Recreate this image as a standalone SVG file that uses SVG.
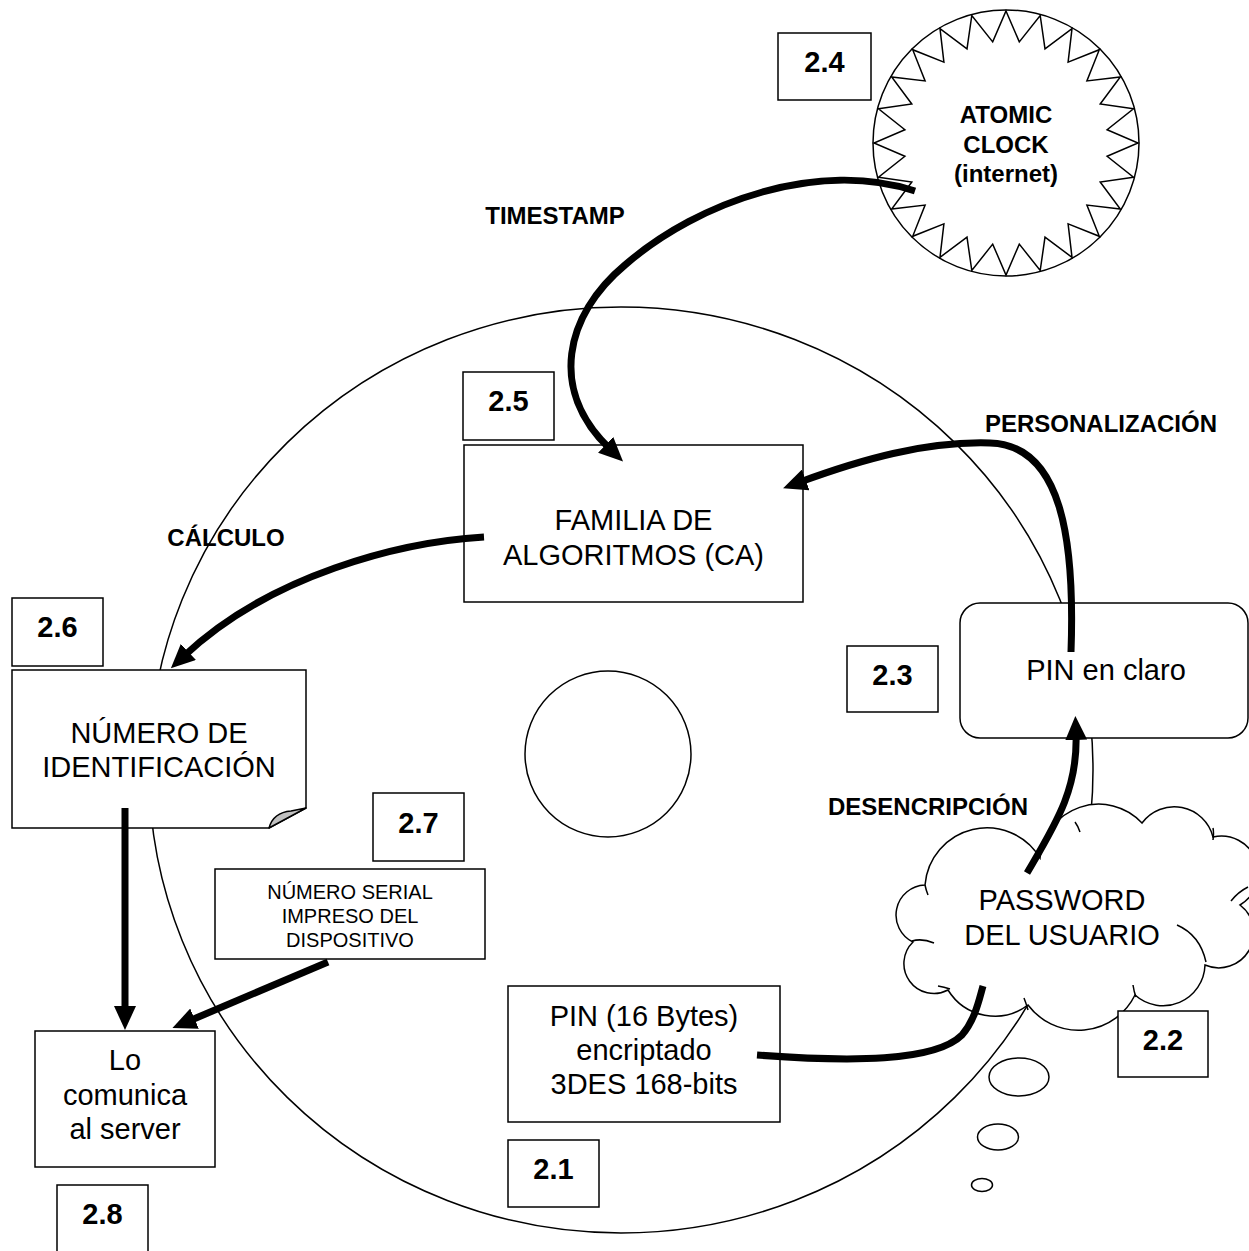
<svg xmlns="http://www.w3.org/2000/svg" width="1249" height="1251" viewBox="0 0 1249 1251">
<defs>
<style>
.box{fill:#fff;stroke:#000;stroke-width:1.5}
.thin{fill:none;stroke:#000;stroke-width:1.5}
.conn{fill:none;stroke:#000;stroke-width:7}
.num{font-family:"Liberation Sans",Arial,sans-serif;font-weight:bold;font-size:29px;text-anchor:middle}
.big{font-family:"Liberation Sans",Arial,sans-serif;font-size:29px;text-anchor:middle}
.lbl{font-family:"Liberation Sans",Arial,sans-serif;font-weight:bold;font-size:24px;text-anchor:middle}
.small{font-family:"Liberation Sans",Arial,sans-serif;font-size:20px;text-anchor:middle}
</style>
<marker id="ah" markerUnits="userSpaceOnUse" markerWidth="24" markerHeight="22" viewBox="0 0 24 22" refX="6" refY="11" orient="auto"><path d="M0,0 L24,11 L0,22 z" fill="#000"/></marker>
</defs>
<rect width="1249" height="1251" fill="#fff"/>
<g id="disc">
<ellipse cx="621" cy="770" rx="472" ry="463" class="thin"/>
<circle cx="608" cy="754" r="83" class="thin"/>
</g>
<g id="n24"><rect x="778" y="33" width="93" height="67" class="box"/><text x="824.5" y="72" class="num">2.4</text></g>
<g id="clock">
<circle cx="1006" cy="143" r="133" class="box"/>
<polygon class="box" points="1006,11 1019.3,41.9 1040.2,15.5 1045,48.8 1072,28.7 1068.1,62.1 1099.3,49.7 1086.9,80.9 1120.3,77 1100.2,104 1133.5,108.8 1107.1,129.7 1138,143 1107.1,156.3 1133.5,177.2 1100.2,182 1120.3,209 1086.9,205.1 1099.3,236.3 1068.1,223.9 1072,257.3 1045,237.2 1040.2,270.5 1019.3,244.1 1006,275 992.7,244.1 971.8,270.5 967,237.2 940,257.3 943.9,223.9 912.7,236.3 925.1,205.1 891.7,209 911.8,182 878.5,177.2 904.9,156.3 874,143 904.9,129.7 878.5,108.8 911.8,104 891.7,77 925.1,80.9 912.7,49.7 943.9,62.1 940,28.7 967,48.8 971.8,15.5 992.7,41.9"/>
<text x="1006" y="123" class="lbl">ATOMIC</text>
<text x="1006" y="153" class="lbl">CLOCK</text>
<text x="1006" y="182" class="lbl">(internet)</text>
</g>
<g id="n25"><rect x="463" y="372" width="91" height="68" class="box"/><text x="508.5" y="411" class="num">2.5</text></g>
<g id="familia"><rect x="464" y="445" width="339" height="157" class="box"/><text x="633.5" y="530" class="big">FAMILIA DE</text><text x="633.5" y="565" class="big">ALGORITMOS (CA)</text></g>
<g id="n26"><rect x="12" y="598" width="91" height="68" class="box"/><text x="57.5" y="637" class="num">2.6</text></g>
<g id="numid">
<path d="M12,670 H306 V808 L269,828 H12 Z" class="box"/>
<path d="M269,828 C272,817 279,812 291,811 L306,808 Z" fill="#c0c0c0" stroke="#000" stroke-width="1.5" stroke-linejoin="round"/>
<text x="159" y="743" class="big">NÚMERO DE</text>
<text x="159" y="777" class="big">IDENTIFICACIÓN</text>
</g>
<g id="n27"><rect x="373" y="793" width="91" height="68" class="box"/><text x="418.5" y="833" class="num">2.7</text></g>
<g id="serial"><rect x="215" y="869" width="270" height="90" class="box"/><text x="350" y="899" class="small">NÚMERO SERIAL</text><text x="350" y="923" class="small">IMPRESO DEL</text><text x="350" y="947" class="small">DISPOSITIVO</text></g>
<g id="comunica"><rect x="35" y="1031" width="180" height="136" class="box"/><text x="125" y="1070" class="big">Lo</text><text x="125" y="1105" class="big">comunica</text><text x="125" y="1139" class="big">al server</text></g>
<g id="n28"><rect x="57" y="1185" width="91" height="70" class="box"/><text x="102.5" y="1224" class="num">2.8</text></g>
<g id="pin16"><rect x="508" y="986" width="272" height="136" class="box"/><text x="644" y="1026" class="big">PIN (16 Bytes)</text><text x="644" y="1060" class="big">encriptado</text><text x="644" y="1094" class="big">3DES 168-bits</text></g>
<g id="n21"><rect x="508" y="1140" width="91" height="67" class="box"/><text x="553.5" y="1179" class="num">2.1</text></g>
<g id="n23"><rect x="847" y="646" width="91" height="66" class="box"/><text x="892.5" y="685" class="num">2.3</text></g>
<g id="pinclaro"><rect x="960" y="603" width="288" height="135" rx="20" ry="20" class="box"/><text x="1106" y="680" class="big">PIN en claro</text></g>
<g id="password">
<path class="box" d="M925,885 A62,62 0 0 1 1040,858 A59,59 0 0 1 1142,823 A40,40 0 0 1 1213,837 A37,37 0 0 1 1240,905 A35,35 0 0 1 1205,965 A42,42 0 0 1 1135,995 A63,63 0 0 1 1028,1005 A55,55 0 0 1 948,990 A30,30 0 0 1 913,942 A30,30 0 0 1 925,885 Z"/>
<path class="thin" d="M912,941 Q922,938 934,943 M1177,925 Q1200,935 1206,962 M1231,901 Q1238,892 1248,887 M1133,985 Q1134,992 1136,997 M1024,998 Q1026,1003 1028,1010 M938,986 Q944,987 950,989 M1075,822 Q1078,826 1080,832 M1213,828 Q1214,833 1213,840 M925,885 Q926,890 928,895"/>
<ellipse cx="1019" cy="1077" rx="30" ry="19" class="box"/>
<ellipse cx="998" cy="1137" rx="20.5" ry="13" class="box"/>
<ellipse cx="982" cy="1185" rx="10.5" ry="6.5" class="box"/>
<text x="1062" y="910" class="big">PASSWORD</text>
<text x="1062" y="945" class="big">DEL USUARIO</text>
</g>
<g id="n22"><rect x="1118" y="1011" width="90" height="66" class="box"/><text x="1163" y="1050" class="num">2.2</text></g>
<g id="connectors">
<path class="conn" d="M915,191 C820,160 700,200 625,265 C565,315 548,390 610,449" marker-end="url(#ah)"/>
<path class="conn" d="M1071,652 C1075,540 1062,445 990,443 C925,441 860,460 800,482" marker-end="url(#ah)"/>
<path class="conn" d="M484,537 C400,542 270,575 184,656" marker-end="url(#ah)"/>
<path class="conn" d="M125,808 V1012" marker-end="url(#ah)"/>
<path class="conn" d="M328,962 L189,1021" marker-end="url(#ah)"/>
<path class="conn" d="M757,1055 C850,1062 935,1062 962,1035 C975,1020 979,1000 983,986"/>
<path class="conn" d="M1027,873 C1055,825 1078,790 1076,734" marker-end="url(#ah)"/>
</g>
<g id="labels">
<text x="555" y="224" class="lbl">TIMESTAMP</text>
<text x="1101" y="432" class="lbl">PERSONALIZACIÓN</text>
<text x="226" y="546" class="lbl">CÁLCULO</text>
<text x="1028" y="815" class="lbl" style="text-anchor:end">DESENCRIPCIÓN</text>
</g>
</svg>
